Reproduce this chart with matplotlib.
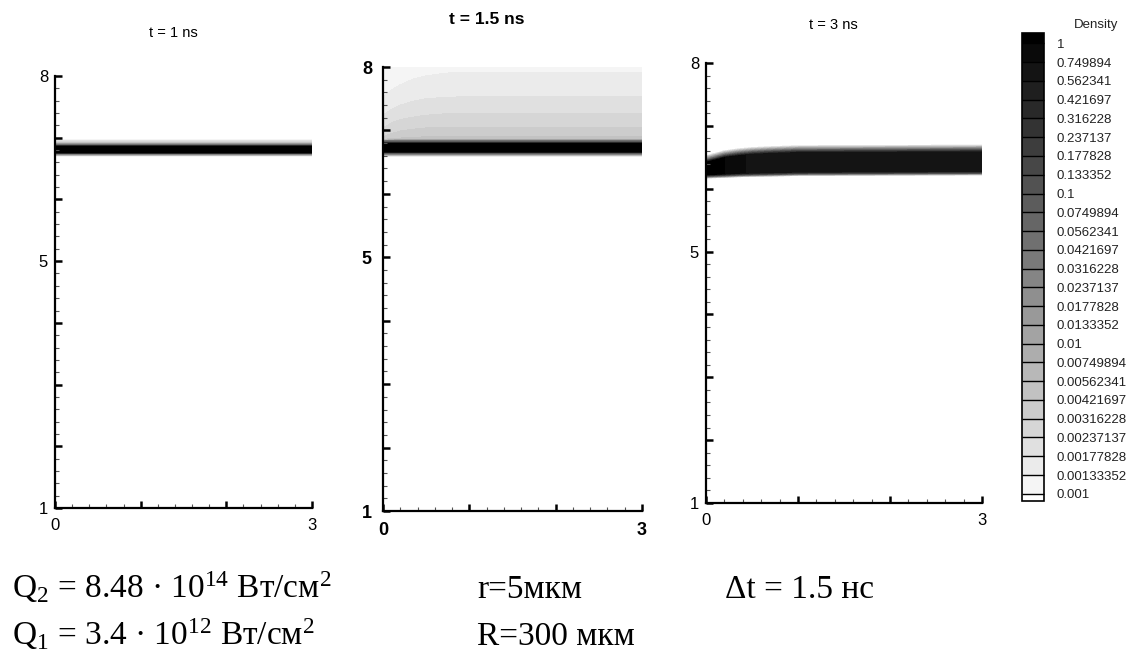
import numpy as np
import matplotlib
matplotlib.use('Agg')
import matplotlib.pyplot as plt
from matplotlib.colors import ListedColormap, BoundaryNorm

plt.rcParams['font.family'] = ['Liberation Sans Narrow', 'Liberation Sans', 'DejaVu Sans']
plt.rcParams['mathtext.fontset'] = 'custom'
plt.rcParams['mathtext.rm'] = 'Liberation Serif'
plt.rcParams['mathtext.it'] = 'Liberation Serif:italic'

# legend levels, top to bottom
density_levels = [1, 0.749894, 0.562341, 0.421697, 0.316228, 0.237137, 0.177828,
                  0.133352, 0.1, 0.0749894, 0.0562341, 0.0421697, 0.0316228,
                  0.0237137, 0.0177828, 0.0133352, 0.01, 0.00749894, 0.00562341,
                  0.00421697, 0.00316228, 0.00237137, 0.00177828, 0.00133352, 0.001]
# fill grey of each band, top to bottom
band_greys = ['#0a0a0a', '#141414', '#1f1f1f', '#292929', '#333333', '#3d3d3d',
              '#474747', '#525252', '#5c5c5c', '#666666', '#707070', '#7a7a7a',
              '#858585', '#8f8f8f', '#999999', '#a3a3a3', '#adadad', '#b8b8b8',
              '#c2c2c2', '#cccccc', '#d6d6d6', '#e0e0e0', '#ebebeb', '#f5f5f5']

titles = ['t = 1 ns', 't = 1.5 ns', 't = 3 ns']

# t = 1 ns : thin flat layer (log10 density across the layer)
p1_x = [0.0, 3.0]
p1_y = [6.68, 6.73, 6.755, 6.865, 6.88, 6.92, 6.97, 6.99]
p1_logd = [-3.5, -1.5, 0.3, 0.3, -1.0, -2.3, -2.9, -3.3]

# t = 1.5 ns : layer plus light halo above it; rows follow contour heights
p2_x = [0.0, 0.1, 0.2, 0.35, 0.5, 0.7, 0.9, 1.2, 3.0]
p2_y = [[6.58] * 9,
        [6.63] * 9,
        [6.66] * 9,
        [6.79] * 9,
        [6.83] * 9,
        [6.85, 6.855, 6.86, 6.86, 6.86, 6.86, 6.86, 6.86, 6.86],
        [6.86, 6.87, 6.88, 6.89, 6.90, 6.90, 6.90, 6.90, 6.90],
        [6.90, 6.95, 6.99, 7.02, 7.04, 7.05, 7.05, 7.05, 7.05],
        [7.04, 7.12, 7.17, 7.21, 7.24, 7.26, 7.27, 7.27, 7.27],
        [7.24, 7.33, 7.40, 7.46, 7.50, 7.52, 7.53, 7.53, 7.53],
        [7.53, 7.64, 7.72, 7.81, 7.86, 7.90, 7.92, 7.92, 7.92],
        [8.00] * 9]
p2_logd = [[-3.5] * 9, [-1.5] * 9, [0.3] * 9, [0.3] * 9, [-1.2] * 9,
           [-2.3] * 9, [-2.375] * 9, [-2.5] * 9, [-2.625] * 9, [-2.75] * 9,
           [-2.875] * 9,
           [-2.97, -2.95, -2.93, -2.92, -2.91, -2.90, -2.90, -2.90, -2.90]]

# t = 3 ns : thicker layer, lower and bent near the axis
p3_x = [0.0, 0.1, 0.2, 0.35, 0.5, 0.7, 1.0, 3.0]
p3_y = [[6.16, 6.165, 6.17, 6.18, 6.185, 6.19, 6.20, 6.21],
        [6.20, 6.205, 6.21, 6.22, 6.225, 6.23, 6.24, 6.25],
        [6.23, 6.235, 6.24, 6.25, 6.255, 6.26, 6.27, 6.28],
        [6.41, 6.45, 6.49, 6.52, 6.54, 6.555, 6.57, 6.58],
        [6.45, 6.49, 6.53, 6.56, 6.58, 6.595, 6.61, 6.62],
        [6.54, 6.58, 6.62, 6.65, 6.67, 6.685, 6.70, 6.71]]
p3_core = [0.2, 0.1, 0.0, -0.1, -0.15, -0.2, -0.2, -0.2]
p3_logd = [[-3.3] * 8, [-1.0] * 8, p3_core, p3_core, [-1.0] * 8, [-3.3] * 8]

log_levels = np.log10(density_levels[::-1])
cmap = ListedColormap(band_greys[::-1])
cmap.set_over('#000000')
cmap.set_under('#ffffff')
norm = BoundaryNorm(log_levels, cmap.N)

fig = plt.figure(figsize=(11.44, 6.53), dpi=100)
W, H = 1144, 653
boxes = [(55, 76, 312, 508), (383, 67, 642, 511), (706, 63, 982, 503)]
title_pos = [(173, 33), (487, 20), (833, 25)]

fields = [
    (np.tile(p1_x, (len(p1_y), 1)), np.column_stack([p1_y] * 2), np.column_stack([p1_logd] * 2)),
    (np.tile(p2_x, (len(p2_y), 1)), np.array(p2_y), np.array(p2_logd)),
    (np.tile(p3_x, (len(p3_y), 1)), np.array(p3_y), np.array(p3_logd)),
]

sets = []
for i, ((l, t, r, b), (X, Y, Z)) in enumerate(zip(boxes, fields)):
    ax = fig.add_axes([l / W, (H - b) / H, (r - l) / W, (b - t) / H])
    cs = ax.contourf(X, Y, Z, levels=log_levels, cmap=cmap, norm=norm, extend='both')
    sets.append(cs)
    ax.set_xlim(0, 3)
    ax.set_ylim(1, 8)
    for s in ['top', 'right']:
        ax.spines[s].set_visible(False)
    for s in ['left', 'bottom']:
        ax.spines[s].set_linewidth(1.6)
        ax.spines[s].set_zorder(5)
    ax.set_xticks([0, 1, 2, 3])
    ax.set_xticklabels(['0', '', '', '3'])
    ax.set_yticks(range(1, 9))
    ax.set_yticklabels(['1', '', '', '', '5', '', '', '8'])
    ax.set_xticks(np.arange(0, 3.01, 0.2), minor=True)
    ax.set_yticks(np.arange(1, 8.01, 0.2), minor=True)
    bold = (i == 1)
    ax.tick_params(which='major', direction='in', length=5, width=1.8,
                   labelsize=13 if bold else 12)
    ax.tick_params(which='minor', direction='in', length=3, width=0.8, color='#555555')
    ax.tick_params(axis='x', which='major', pad=8 if bold else 7)
    ax.tick_params(axis='y', which='major', pad=8 if bold else 5)
    if bold:
        for lbl in ax.get_xticklabels() + ax.get_yticklabels():
            lbl.set_fontweight('bold')
    tx, ty = title_pos[i]
    fig.text(tx / W, (H - ty) / H, titles[i], ha='center', va='center',
             fontsize=12.5 if bold else 10.5, fontweight='bold' if bold else 'normal')

# legend
cax = fig.add_axes([1022 / W, (H - 501) / H, 22 / W, 468 / H])
cb = fig.colorbar(sets[1], cax=cax, extendrect=True, extendfrac=(0.016, 0.023),
                  drawedges=True)
cb.set_ticks(log_levels)
cb.set_ticklabels([str(v) for v in density_levels[::-1]])
cax.tick_params(length=0, labelsize=9.5, pad=9, labelfontfamily='Liberation Sans',
                labelcolor='#222222')
cb.outline.set_linewidth(1.2)
cb.dividers.set_linewidth(1.0)
fig.text(1096 / W, (H - 25) / H, 'Density', ha='center', va='center', fontsize=9.5,
         family='Liberation Sans', color='#222222')

# parameters under the plots
serif = dict(family='Liberation Serif', fontsize=24, va='baseline')
fig.text(12 / W, (H - 598) / H, 'Q$_2$ = 8.48 · 10$^{14}$ Вт/см$^2$', **serif)
fig.text(12 / W, (H - 645) / H, 'Q$_1$ = 3.4 · 10$^{12}$ Вт/см$^2$', **serif)
fig.text(477 / W, (H - 598) / H, 'r=5мкм', **serif)
fig.text(477 / W, (H - 645) / H, 'R=300 мкм', **serif)
fig.text(725 / W, (H - 598) / H, 'Δt = 1.5 нс', **serif)

fig.savefig('out.png', dpi=100)
